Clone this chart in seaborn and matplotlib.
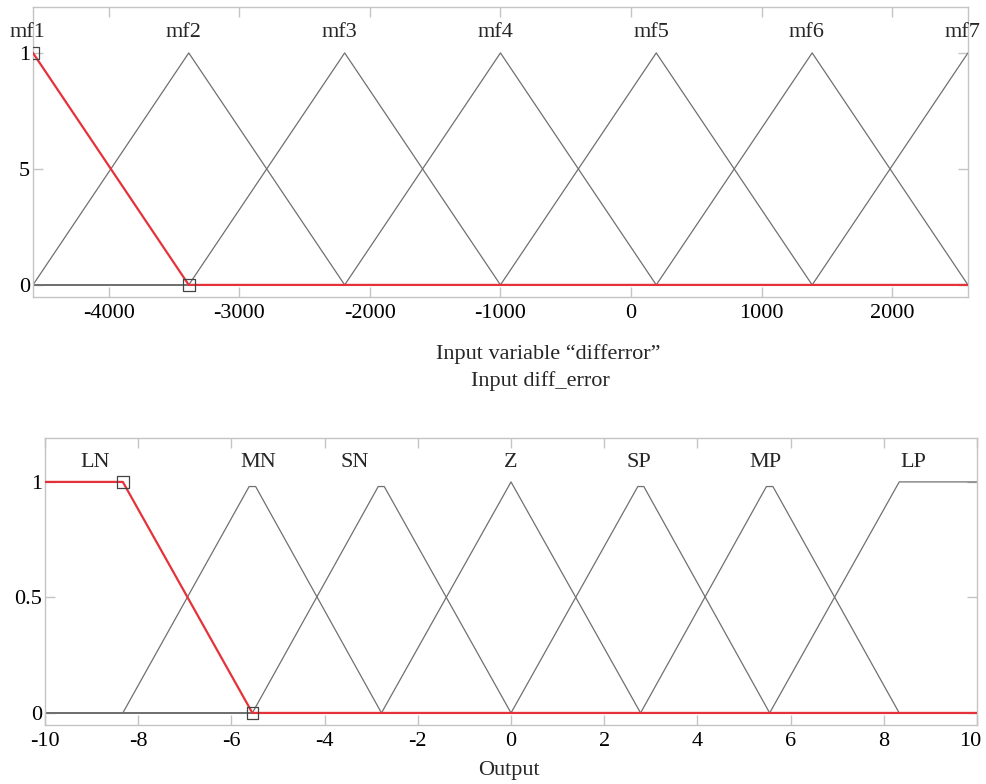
import matplotlib
matplotlib.use("Agg")
import matplotlib.pyplot as plt
import matplotlib.transforms as mtransforms
import seaborn as sns
import pandas as pd
import numpy as np

sns.set_style("white")
plt.rcParams['font.family'] = ['Liberation Serif', 'DejaVu Serif']

# ---------------- data ----------------
# top: input "differror" membership functions (triangles: a, b, c)
in_names = ["mf1", "mf2", "mf3", "mf4", "mf5", "mf6", "mf7"]
in_a = [-5773, -4580, -3387, -2193, -1000, 193, 1387]
in_b = [-4580, -3387, -2193, -1000, 193, 1387, 2580]
in_c = [-3387, -2193, -1000, 193, 1387, 2580, 3773]
in_range = [-4580, 2580]
in_xticks = [-4000, -3000, -2000, -1000, 0, 1000, 2000]
in_yticks = [0, 0.5, 1]
in_yticklabels = ["0", "5", "1"]

# bottom: output membership functions (trapezoids: a, b1, b2, c, peak height)
out_names = ["LN", "MN", "SN", "Z", "SP", "MP", "LP"]
out_a = [-13.0, -8.33, -5.55, -2.78, 0.0, 2.78, 5.55]
out_b1 = [-10.0, -5.62, -2.85, 0.0, 2.72, 5.48, 8.33]
out_b2 = [-8.33, -5.48, -2.72, 0.0, 2.85, 5.62, 10.0]
out_c = [-5.55, -2.78, 0.0, 2.78, 5.55, 8.33, 13.0]
out_peak = [1.0, 0.98, 0.98, 1.0, 0.98, 0.98, 1.0]
out_label_x = [-8.93, -5.43, -3.35, 0.0, 2.75, 5.45, 8.63]
out_range = [-10, 10]
out_xticks = [-10, -8, -6, -4, -2, 0, 2, 4, 6, 8, 10]
out_yticks = [0, 0.5, 1]
out_yticklabels = ["0", "0.5", "1"]

GRAY = "#707070"
RED = "#e5323a"
SPINE = "#c4c4c4"
FS = 16


def clip_poly(xs, ys, lo, hi):
    """clip a piecewise-linear polyline to [lo, hi] and extend along 0."""
    grid = sorted(set([lo, hi] + [x for x in xs if lo <= x <= hi]))
    return grid, [float(np.interp(g, xs, ys, left=0, right=0)) for g in grid]


fig = plt.figure(figsize=(9.87, 7.84), dpi=100)
ax1 = fig.add_axes([0.0334, 0.6212, 0.9473, 0.3699])
ax2 = fig.add_axes([0.0456, 0.0753, 0.9443, 0.3660])

# ---- top ----
rows = []
for i, n in enumerate(in_names):
    xs, ys = clip_poly([in_a[i], in_b[i], in_c[i]], [0, 1, 0], in_range[0], in_range[1])
    for k, (x, y) in enumerate(zip(xs, ys)):
        rows.append({"mf": n, "x": x, "y": y, "o": k})
df_in = pd.DataFrame(rows)
sns.lineplot(data=df_in[df_in.mf != "mf1"], x="x", y="y", units="mf", estimator=None,
             sort=False, color=GRAY, lw=0.9, ax=ax1)
sns.lineplot(data=df_in[df_in.mf == "mf1"], x="x", y="y", estimator=None, sort=False,
             color=RED, lw=1.6, ax=ax1, zorder=5)
sns.scatterplot(x=[in_b[0], in_c[0]], y=[1, 0], marker="s", s=70,
                facecolors="none", edgecolors="#444444", linewidth=0.9, ax=ax1, zorder=6)
ax1.set_xlim(in_range)
ax1.set_ylim(-0.052, 1.198)
ax1.set_xticks(in_xticks)
ax1.set_xticklabels([str(t) for t in in_xticks])
ax1.set_yticks(in_yticks)
ax1.set_yticklabels(in_yticklabels)
for i, n in enumerate(in_names):
    ax1.text(in_b[i] - 40, 1.086, n, ha="center", va="center", fontsize=FS, clip_on=False)
ax1.set_xlabel("")
ax1.set_ylabel("")

# ---- bottom ----
rows = []
for i, n in enumerate(out_names):
    xs, ys = clip_poly([out_a[i], out_b1[i], out_b2[i], out_c[i]],
                       [0, out_peak[i], out_peak[i], 0], out_range[0], out_range[1])
    for k, (x, y) in enumerate(zip(xs, ys)):
        rows.append({"mf": n, "x": x, "y": y, "o": k})
df_out = pd.DataFrame(rows)
sns.lineplot(data=df_out[df_out.mf != "LN"], x="x", y="y", units="mf", estimator=None,
             sort=False, color=GRAY, lw=0.9, ax=ax2)
sns.lineplot(data=df_out[df_out.mf == "LN"], x="x", y="y", estimator=None, sort=False,
             color=RED, lw=1.6, ax=ax2, zorder=5)
sns.scatterplot(x=[out_b2[0], out_c[0]], y=[1, 0], marker="s", s=70,
                facecolors="none", edgecolors="#444444", linewidth=0.9, ax=ax2, zorder=6)
ax2.set_xlim(out_range)
ax2.set_ylim(-0.052, 1.19)
ax2.set_xticks(out_xticks)
ax2.set_xticklabels([str(t) for t in out_xticks])
ax2.set_yticks(out_yticks)
ax2.set_yticklabels(out_yticklabels)
for i, n in enumerate(out_names):
    ax2.text(out_label_x[i], 1.082, n, ha="center", va="center", fontsize=FS, clip_on=False)
ax2.set_xlabel("")
ax2.set_ylabel("")

for ax in (ax1, ax2):
    for s in ax.spines.values():
        s.set_color(SPINE)
        s.set_linewidth(1.0)
    ax.tick_params(axis="both", direction="in", length=7, width=1.0, color=SPINE,
                   labelsize=FS, top=True, right=True, bottom=True, left=True,
                   labelcolor="black")
    ax.tick_params(axis="x", pad=5)
    ax.tick_params(axis="y", pad=2)

# nudge the last bottom tick label inward so it stays on the canvas
last = ax2.get_xticklabels()[-1]
last.set_transform(last.get_transform() +
                   mtransforms.ScaledTranslation(-5 / 72, 0, fig.dpi_scale_trans))

fig.text(548 / 987, 1 - 354 / 784, "Input variable \u201cdifferror\u201d", ha="center", va="center", fontsize=FS)
fig.text(540 / 987, 1 - 381 / 784, "Input diff_error", ha="center", va="center", fontsize=FS)
fig.text(509 / 987, 1 - 770 / 784, "Output", ha="center", va="center", fontsize=FS)

fig.savefig("out.png", dpi=100)
